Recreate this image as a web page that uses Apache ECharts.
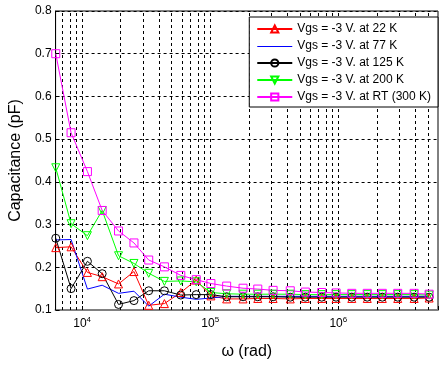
<!DOCTYPE html>
<html><head><meta charset="utf-8">
<script src="https://cdn.jsdelivr.net/npm/echarts@6/dist/echarts.min.js"></script>
<style>html,body{margin:0;padding:0;background:#fff}#c{width:441px;height:365px}</style>
</head><body><div id="c"></div>
<script>
// angular frequency (rad) of each measurement
const omega = [6220, 8190, 10990, 14330, 19230, 25370, 33080, 43870, 58880, 77680, 101200, 134300, 180300, 235000, 309500, 421400, 552500, 741800, 960000, 1274000, 1682000, 2205000, 2909000, 3908000, 5117000];
// capacitance (pF)
const cap22K  = [0.246, 0.248, 0.188, 0.178, 0.161, 0.190, 0.111, 0.115, 0.141, 0.170, 0.133, 0.126, 0.126, 0.127, 0.127, 0.126, 0.127, 0.127, 0.127, 0.127, 0.127, 0.127, 0.127, 0.127, 0.128];
const cap77K  = [0.264, 0.265, 0.149, 0.158, 0.139, 0.144, 0.109, 0.137, 0.130, 0.125, 0.128, 0.132, 0.132, 0.132, 0.132, 0.132, 0.132, 0.132, 0.132, 0.132, 0.132, 0.132, 0.132, 0.132, 0.132];
const cap125K = [0.268, 0.150, 0.214, 0.185, 0.113, 0.122, 0.145, 0.145, 0.135, 0.136, 0.136, 0.131, 0.131, 0.131, 0.131, 0.130, 0.130, 0.130, 0.130, 0.130, 0.130, 0.130, 0.130, 0.130, 0.130];
const cap200K = [0.433, 0.302, 0.274, 0.333, 0.227, 0.209, 0.186, 0.167, 0.168, 0.166, 0.141, 0.138, 0.137, 0.137, 0.137, 0.137, 0.136, 0.136, 0.136, 0.136, 0.136, 0.136, 0.136, 0.136, 0.135];
const capRT   = [0.700, 0.515, 0.424, 0.333, 0.285, 0.257, 0.217, 0.201, 0.181, 0.171, 0.162, 0.156, 0.151, 0.149, 0.146, 0.145, 0.142, 0.141, 0.140, 0.139, 0.139, 0.139, 0.139, 0.139, 0.137];
const seriesNames = ['Vgs = -3 V. at 22 K', 'Vgs = -3 V. at 77 K', 'Vgs = -3 V. at 125 K', 'Vgs = -3 V. at 200 K', 'Vgs = -3 V. at RT (300 K)'];
const yTickValues = [0.1, 0.2, 0.3, 0.4, 0.5, 0.6, 0.7, 0.8];
const xGridValues = [7e3, 8e3, 9e3, 1e4, 2e4, 3e4, 4e4, 5e4, 6e4, 7e4, 8e4, 9e4, 1e5, 2e5, 3e5, 4e5, 5e5, 6e5, 7e5, 8e5, 9e5, 1e6, 2e6, 3e6, 4e6, 5e6];

const FONT = "'Liberation Sans', Arial, sans-serif";
const pairs = ys => omega.map((x, i) => [x, ys[i]]);
const chart = echarts.init(document.getElementById('c'), null, {renderer: 'canvas'});

function mk(name, ys, color, symbol) {
  return {
    name, type: 'line', data: pairs(ys), z: 3,
    symbol: symbol || 'none', symbolSize: 8, showSymbol: !!symbol,
    lineStyle: {color, width: 1},
    itemStyle: symbol ? {color: 'rgba(0,0,0,0)', borderColor: color, borderWidth: 1} : {color},
    emphasis: {disabled: true}, animation: false
  };
}

const legendData = seriesNames.map((n, i) => i === 1
  ? {name: n, icon: 'path://M0,0L0,0M0,4.5L35,4.5L35,5.5L0,5.5ZM35,9L35,9', itemStyle: {color: '#0000ff'}}
  : {name: n});

chart.setOption({
  animation: false,
  backgroundColor: '#fff',
  textStyle: {fontFamily: FONT},
  grid: {left: 52, right: 0, top: 11, bottom: 47, show: true, borderColor: '#000', borderWidth: 1, backgroundColor: '#fff'},
  legend: {
    data: legendData, orient: 'vertical', right: 3, top: 17, z: 20,
    backgroundColor: '#fff', borderColor: '#000', borderWidth: 1,
    padding: [6, 7, 4, 7], itemWidth: 35, itemHeight: 9, itemGap: 5,
    textStyle: {fontSize: 12, color: '#000', fontFamily: FONT},
    selectedMode: false
  },
  xAxis: {
    type: 'log', logBase: 10, min: 6200, max: 6000000,
    name: 'ω (rad)', nameLocation: 'middle', nameGap: 34,
    nameTextStyle: {fontSize: 16, color: '#000', fontFamily: FONT},
    axisLine: {show: true, lineStyle: {color: '#808080', width: 2}},
    axisTick: {show: true, inside: true, length: 4, lineStyle: {color: '#000'}},
    splitLine: {show: false},
    axisLabel: {
      margin: 6, color: '#000',
      formatter: v => {
        const l = Math.log10(v), e = Math.round(l);
        if (Math.abs(l - e) > 1e-6) return '';
        return '{b|10}{s|' + e + '}';
      },
      rich: {
        b: {fontSize: 12, color: '#000', fontFamily: FONT},
        s: {fontSize: 8, color: '#000', fontFamily: FONT, padding: [0, 0, 8, 0]}
      }
    }
  },
  yAxis: {
    type: 'value', min: 0.1, max: 0.8, interval: 0.1,
    name: 'Capacitance (pF)', nameLocation: 'middle', nameGap: 30,
    nameTextStyle: {fontSize: 16, color: '#000', fontFamily: FONT},
    axisLine: {show: true, lineStyle: {color: '#000'}},
    axisTick: {show: true, inside: true, length: 4, lineStyle: {color: '#000'}},
    splitLine: {show: true, lineStyle: {color: '#000', type: [3, 3], width: 1}},
    axisLabel: {fontSize: 12, color: '#000', margin: 4, formatter: v => yTickValues.includes(+v.toFixed(1)) ? v.toFixed(1) : ''}
  },
  series: [
    {
      name: 'grid', type: 'line', data: [], z: 1, silent: true,
      markLine: {
        z: 1, silent: true, symbol: ['none', 'none'], animation: false,
        label: {show: false},
        lineStyle: {color: '#000', type: [3, 3], width: 1},
        emphasis: {disabled: true},
        data: xGridValues.map(v => ({xAxis: v}))
      }
    },
    mk(seriesNames[0], cap22K, '#ff0000', 'triangle'),
    mk(seriesNames[1], cap77K, '#0000ff', null),
    mk(seriesNames[2], cap125K, '#000000', 'circle'),
    mk(seriesNames[3], cap200K, '#00ff00', 'path://M0,0L10,0L5,9Z'),
    mk(seriesNames[4], capRT, '#ff00ff', 'rect')
  ]
});
</script>
</body></html>
